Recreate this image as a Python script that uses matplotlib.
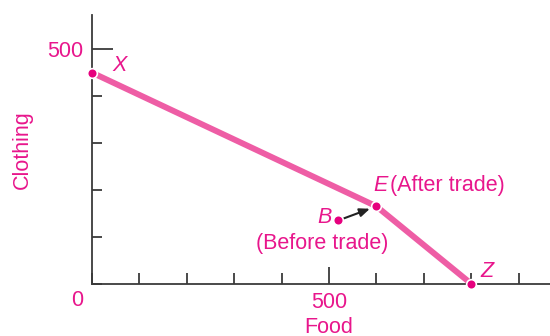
import matplotlib
matplotlib.use("Agg")
import matplotlib.pyplot as plt
from matplotlib.ticker import MultipleLocator

plt.rcParams['font.family'] = ['Liberation Sans', 'DejaVu Sans']

# Data
ppf_food = [0, 600, 800]
ppf_clothing = [450, 165, 0]
point_names = ["X", "E", "Z"]
before_food = 520
before_clothing = 135

PINK_TEXT = "#E8168C"
PINK_LINE = "#EE5DA5"
PINK_DOT = "#E6007E"
AXIS = "#3a3a3a"
FS = 15.5

fig = plt.figure(figsize=(5.5, 3.36), dpi=100)
W, H = 550, 336
x0, y0, ytop = 92, 283.7, 15
ax = fig.add_axes([x0 / W, (H - y0) / H, (W - x0) / W, (y0 - ytop) / H])
ax.set_xlim(0, (W - x0) / 0.474)
ax.set_ylim(0, (y0 - ytop) / 0.469)
for s in ("top", "right"):
    ax.spines[s].set_visible(False)
for s in ("left", "bottom"):
    ax.spines[s].set_color(AXIS)
    ax.spines[s].set_linewidth(1.3)
    ax.spines[s].set_zorder(1)

ax.xaxis.set_major_locator(MultipleLocator(500))
ax.xaxis.set_minor_locator(MultipleLocator(100))
ax.yaxis.set_major_locator(MultipleLocator(500))
ax.yaxis.set_minor_locator(MultipleLocator(100))
ax.tick_params(axis="x", which="major", direction="in", length=12, width=1.3, color=AXIS,
               labelsize=FS, labelcolor=PINK_TEXT, pad=6)
ax.tick_params(axis="x", which="minor", direction="in", length=8, width=1.3, color=AXIS)
ax.tick_params(axis="y", which="major", direction="in", length=15, width=1.3, color=AXIS,
               labelsize=FS, labelcolor=PINK_TEXT, pad=6)
ax.tick_params(axis="y", which="minor", direction="in", length=7, width=1.3, color=AXIS)
ax.set_xticks([500])
ax.set_xticklabels(["500"])
ax.set_yticks([500])
ax.set_yticklabels(["500"])
ax.text(-15 / 0.474, -17 / 0.469, "0", color=PINK_TEXT, fontsize=FS, ha="center", va="center",
        clip_on=False)

ax.plot(ppf_food, ppf_clothing, color=PINK_LINE, lw=4.3, solid_capstyle="butt", zorder=2)
ax.plot(ppf_food, ppf_clothing, "o", color=PINK_DOT, ms=7, mec="white", mew=1.2, zorder=4,
        clip_on=False)
ax.plot([before_food], [before_clothing], "o", color=PINK_DOT, ms=7, mec="white", mew=1.2,
        zorder=4)

ax.annotate("", xy=(ppf_food[1], ppf_clothing[1]), xytext=(before_food, before_clothing),
            arrowprops=dict(arrowstyle="-|>,head_length=0.6,head_width=0.25", color="#222222",
                            lw=1.5, shrinkA=4, shrinkB=5), zorder=3)

pt = 0.72  # px -> points
ax.annotate("X", (ppf_food[0], ppf_clothing[0]), xytext=(20 * pt, 7 * pt), textcoords="offset points",
            color=PINK_TEXT, fontsize=FS, style="italic", ha="left", va="center")
ax.annotate("E", (ppf_food[1], ppf_clothing[1]), xytext=(-3 * pt, 21 * pt), textcoords="offset points",
            color=PINK_TEXT, fontsize=FS, style="italic", ha="left", va="center")
ax.annotate("(After trade)", (ppf_food[1], ppf_clothing[1]), xytext=(14 * pt, 21 * pt),
            textcoords="offset points", color=PINK_TEXT, fontsize=FS, ha="left", va="center")
ax.annotate("Z", (ppf_food[2], ppf_clothing[2]), xytext=(9 * pt, 12 * pt), textcoords="offset points",
            color=PINK_TEXT, fontsize=FS, style="italic", ha="left", va="center",
            annotation_clip=False)
ax.annotate("B", (before_food, before_clothing), xytext=(-7 * pt, 3 * pt), textcoords="offset points",
            color=PINK_TEXT, fontsize=FS, style="italic", ha="right", va="center")
ax.annotate("(Before trade)", (before_food, before_clothing), xytext=(-16 * pt, -23 * pt),
            textcoords="offset points", color=PINK_TEXT, fontsize=FS, ha="center", va="center")

ax.text(500, -44 / 0.469, "Food", color=PINK_TEXT, fontsize=FS, ha="center", va="center",
        clip_on=False)
fig.text(22 / W, 1 - 150 / H, "Clothing", color=PINK_TEXT, fontsize=FS, rotation=90,
         ha="center", va="center")

fig.savefig("out.png", dpi=100)
